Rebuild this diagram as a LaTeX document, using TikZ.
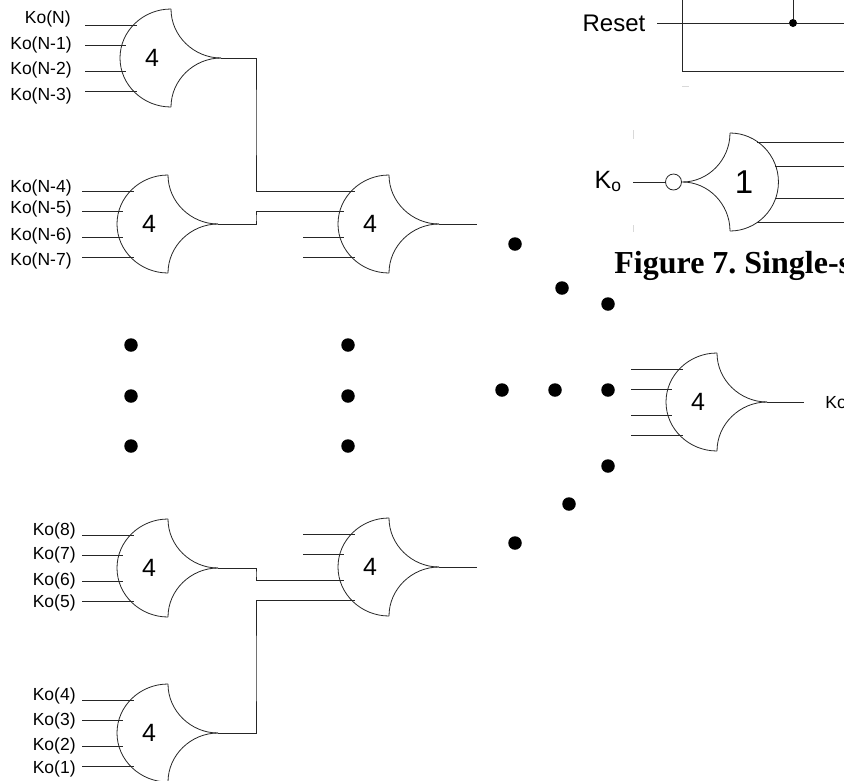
\documentclass[tikz,border=0pt]{standalone}
\usepackage{fontspec}
\setmainfont{Liberation Sans}
\newfontfamily\capfont{Liberation Serif}
\usetikzlibrary{positioning, calc}

\begin{document}
\begin{tikzpicture}[x=1pt, y=-1pt, line width=0.8pt]
	\tikzset{
		wire/.style={draw=black!85},
		ko/.style={anchor=east, inner sep=0pt, font=\fontsize{17.5}{19}\selectfont},
		bigdot/.style={circle, fill=black, inner sep=0pt, minimum size=13.5pt},
		joint/.style={circle, fill=black, inner sep=0pt, minimum size=8pt},
		inv/.style={circle, draw=black!85, fill=white, inner sep=0pt, minimum size=16pt},
		faint/.style={draw=black!15},
		orgate/.pic={
			\draw[wire] (0,-49) .. controls (-28,-49) and (-51,-27) .. (-51,0) .. controls (-51,27) and (-28,49) .. (0,49);
			\draw[wire] (0,-49) .. controls (0,-22) and (23,0) .. (50,0);
			\draw[wire] (0,49) .. controls (0,22) and (23,0) .. (50,0);
			\node[font=\fontsize{25}{27}\selectfont] (-num) at (-19,0) {#1};
			\coordinate (-out) at (50,0);
			\coordinate (-in1) at (-34,-33);
			\coordinate (-in2) at (-45,-13);
			\coordinate (-in3) at (-45,13);
			\coordinate (-in4) at (-34,33);
			\coordinate (-w1) at (-86,-33);
			\coordinate (-w2) at (-86,-13);
			\coordinate (-w3) at (-86,13);
			\coordinate (-w4) at (-86,33);
		}
	}
	\useasboundingbox (0,0) rectangle (844,780);

	% first column
	\pic (ga) at (171,58) {orgate=4};
	\pic (gb) at (168,224) {orgate=4};
	\pic (gc) at (168,568) {orgate=4};
	\pic (gd) at (168,733) {orgate=4};
	% second column and last stage
	\pic (ge) at (389,224) {orgate=4};
	\pic (gf) at (389,567) {orgate=4};
	\pic (gg) at (717,402) {orgate=4};

	\foreach \g in {ga,gb,gc,gd,ge,gf,gg}
		\foreach \i in {1,2,3,4}
			\draw[wire] (\g-w\i) -- (\g-in\i);

	\node[ko] (n0) at (71,19) {Ko(N)};
	\node[ko] (n1) at (72,45) {Ko(N-1)};
	\node[ko] (n2) at (72,70) {Ko(N-2)};
	\node[ko] (n3) at (72,96) {Ko(N-3)};
	\node[ko] (n4) at (72,188) {Ko(N-4)};
	\node[ko] (n5) at (72,209) {Ko(N-5)};
	\node[ko] (n6) at (72,236) {Ko(N-6)};
	\node[ko] (n7) at (72,261) {Ko(N-7)};
	\node[ko] (k8) at (76,531) {Ko(8)};
	\node[ko] (k7) at (76,555) {Ko(7)};
	\node[ko] (k6) at (76,581) {Ko(6)};
	\node[ko] (k5) at (76,603) {Ko(5)};
	\node[ko] (k4) at (76,696) {Ko(4)};
	\node[ko] (k3) at (76,721) {Ko(3)};
	\node[ko] (k2) at (76,746) {Ko(2)};
	\node[ko] (k1) at (76,769) {Ko(1)};

	\coordinate (j1) at (256,120);
	\coordinate (j2) at (256,218);
	\coordinate (j3) at (256,574);
	\coordinate (j4) at (256,670);
	\draw[wire] (ga-out) -| (j1) |- (ge-w1);
	\draw[wire] (gb-out) -| (j2) |- (ge-w2);
	\draw[wire] (gc-out) -| (j3) |- (gf-w3);
	\draw[wire] (gd-out) -| (j4) |- (gf-w4);

	\coordinate (eo) at (477,224);
	\coordinate (fo) at (477,567);
	\coordinate (go) at (804,402);
	\draw[wire] (ge-out) -- (eo);
	\draw[wire] (gf-out) -- (fo);
	\draw[wire] (gg-out) -- (go);
	\node[ko, anchor=west] (ko) at (825,403) {Ko};

	% dots
	\node[bigdot] (d1) at (131,345) {};
	\node[bigdot] (d2) at (131,396) {};
	\node[bigdot] (d3) at (131,446) {};
	\node[bigdot] (d4) at (348,345) {};
	\node[bigdot] (d5) at (348,396) {};
	\node[bigdot] (d6) at (348,446) {};
	\node[bigdot] (d7) at (515,244) {};
	\node[bigdot] (d8) at (562,288) {};
	\node[bigdot] (d9) at (608,304) {};
	\node[bigdot] (d10) at (502,390) {};
	\node[bigdot] (d11) at (555,390) {};
	\node[bigdot] (d12) at (608,390) {};
	\node[bigdot] (d13) at (608,466) {};
	\node[bigdot] (d14) at (569,504) {};
	\node[bigdot] (d15) at (515,543) {};

	% reset part, cut by the page
	\node[font=\fontsize{24}{26}\selectfont, inner sep=0pt] (reset) at (614,23) {Reset};
	\coordinate (r0) at (657,23);
	\coordinate (r1) at (844,23);
	\coordinate (b0) at (682,0);
	\coordinate (b1) at (844,71);
	\coordinate (t0) at (793,0);
	\node[joint] (rj) at (793,23) {};
	\draw[wire] (r0) -- (rj) -- (r1);
	\draw[wire] (t0) -- (rj);
	\draw[wire] (b0) |- (b1);
	\draw[faint] (682,86) -- (689,86);

	% single input gate
	\pic[xscale=-0.95] (gh) at (730,182) {orgate={}};
	\node[font=\fontsize{33}{35}\selectfont] (hnum) at (744,182) {1};
	\node[inv] (nt) at (673.5,182) {};
	\node[font=\fontsize{25}{27}\selectfont, anchor=base east, inner sep=0pt] (kin) at (622,188) {K\textsubscript{o}};
	\coordinate (ks) at (633,182);
	\draw[wire] (ks) -- (nt);
	\coordinate (h1) at (757,142);
	\coordinate (h2) at (775,166);
	\coordinate (h3) at (775,198);
	\coordinate (h4) at (757,222);
	\coordinate (o1) at (844,142);
	\coordinate (o2) at (844,166);
	\coordinate (o3) at (844,198);
	\coordinate (o4) at (844,222);
	\draw[wire] (h1) -- (o1);
	\draw[wire] (h2) -- (o2);
	\draw[wire] (h3) -- (o3);
	\draw[wire] (h4) -- (o4);
	\draw[faint] (633,130) -- (633,139);
	\draw[faint] (633,225) -- (633,232);

	\node[anchor=base west, inner sep=0pt, font=\capfont\bfseries\fontsize{32}{34}\selectfont] (cap) at (614,273) {Figure 7.\ Single-s};
\end{tikzpicture}
\end{document}
